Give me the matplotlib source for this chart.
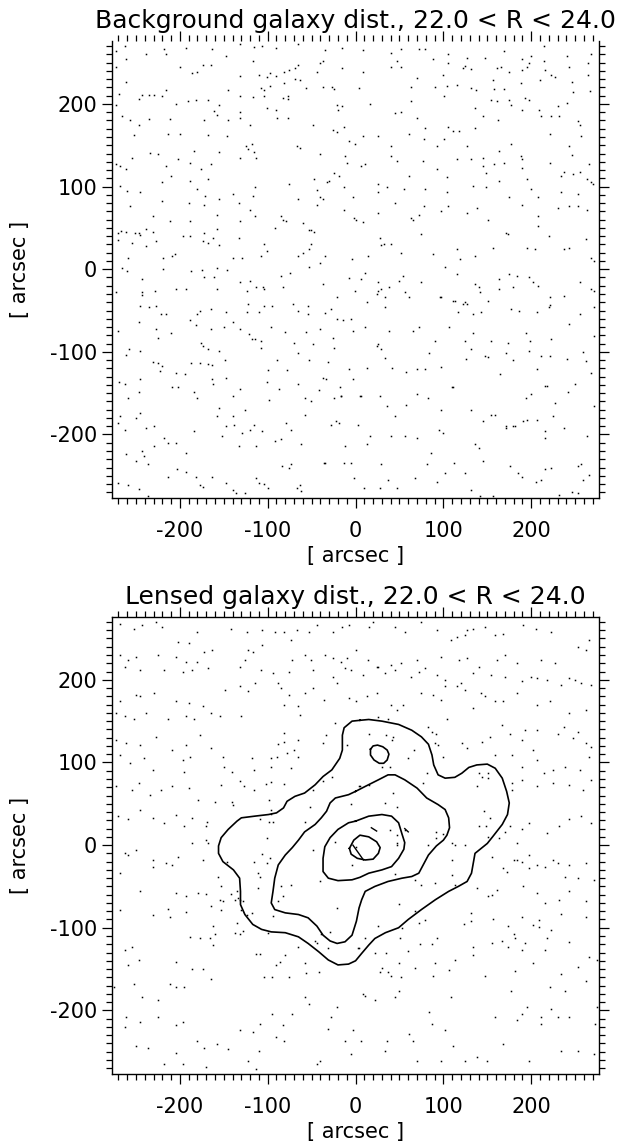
#!/usr/bin/python
# -*- coding: utf-8 -*-
"""
Background vs. lensed galaxy distribution, 22.0 < R < 24.0
"""
import numpy as np
import matplotlib
matplotlib.use('Agg')
import matplotlib.pyplot as plt
from matplotlib.ticker import MultipleLocator

#### Data (arcsec)
##############################################################################
title_top = 'Background galaxy dist., 22.0 < R < 24.0'
title_bot = 'Lensed galaxy dist., 22.0 < R < 24.0'
axis_label = '[ arcsec ]'

# background galaxy positions (x, y)
bg_dots = [
    (-273,264),(-263,270),(-238,260),(-218,266),(-216,260),(-193,268),(-163,266),(-131,272),(-116,269),(-106,270),
    (-90,268),(-65,272),(-35,265),(-15,268),(8,265),(40,262),(52,266),(72,266),(79,266),(88,254),(105,260),(127,256),
    (147,256),(169,264),(189,254),(200,258),(214,270),(241,258),(268,260),(-273,245),(-261,254),(-147,258),(-117,252),
    (-37,252),(40,245),(47,252),(52,245),(105,249),(122,243),(166,245),(175,239),(189,241),(198,249),(195,245),
    (214,252),(216,241),(223,235),(243,245),(265,249),
    (-200,245),(-186,237),(-181,239),(-174,247),(-165,247),(-131,234),(-110,235),(-101,233),(-97,237),(-90,234),
    (-81,239),(-76,241),(-69,243),(-65,247),(-69,230),(-63,229),(-44,239),(-40,250),(-15,243),(8,239),(70,231),
    (100,235),(125,246),(132,242),(156,229),(161,243),(210,229),(227,233),(246,227),(265,235),(-261,227),(-145,217),
    (-108,219),(-104,217),(-97,222),(-81,225),(-56,219),(-37,221),(-27,221),(-24,218),(4,219),(63,221),(90,221),
    (104,222),(116,223),(132,219),(137,217),(158,218),(169,218),(188,225),(247,214),(267,216),(-269,212),(-243,211),
    (-229,211),(-216,217),(-131,209),(-117,208),(-104,209),(-83,207),(-77,209),
    (-273,199),(-247,206),(-235,211),(-220,209),(-204,200),(-191,203),(-182,205),(-168,205),(-156,199),(-161,191),
    (-131,190),(-101,195),(-90,193),(-77,206),(-21,199),(-20,193),(-15,197),(17,200),(45,189),(52,190),(63,203),
    (101,209),(136,195),(154,205),(161,203),(175,205),(177,199),(193,207),(198,205),(209,193),(230,197),(241,201),
    (189,193),(-266,185),(-257,181),(-247,174),(-235,182),(-211,182),(-172,181),(-158,187),(-145,181),(-131,183),
    (-120,174),(-89,183),(-77,183),(-49,175),(-26,168),(-21,166),(-13,172),(70,183),(79,171),(105,172),(111,167),
    (118,167),(136,171),(145,185),(162,180),(223,185),(232,185),(253,179),(256,174),(211,185),
    (-252,162),(-214,163),(-200,163),(-168,162),(-146,161),(-125,149),(-122,145),(-118,151),(-116,142),(-67,149),
    (-63,147),(-40,140),(-8,155),(-1,151),(8,161),(26,161),(40,149),(61,163),(78,158),(93,149),(101,158),(127,149),
    (145,135),(163,143),(177,151),(188,137),(189,133),(221,163),(243,149),(246,138),(257,161),(-234,141),(-225,140),
    (-202,133),(-184,143),(-156,142),(-273,127),(-268,125),(-261,121),(-254,135),(-216,125),(-188,129),(-165,127),
    (-131,134),(-113,134),(-12,137),(-10,129),(11,127),(40,137),(47,131),(77,131),(116,133),(132,133),(145,125),
    (158,127),(169,128),(189,123),(221,129),(237,118),(255,118),(266,127),
    (-210,113),(-188,107),(-176,121),(-168,109),(-140,91),(-133,80),(-115,99),(-76,103),(-47,109),(-30,107),
    (-24,117),(-19,113),(-13,99),(6,125),(25,103),(61,113),(93,121),(104,112),(148,117),(163,107),(195,109),
    (200,97),(234,113),(247,115),(264,109),(268,105),(270,103),(-268,101),(-260,95),(-245,93),(-220,105),(-181,97),
    (-171,89),(-156,85),(-117,89),(-65,85),(-44,96),(-40,87),(-32,105),(-3,87),(26,93),(36,99),(55,97),(79,97),
    (104,94),(134,101),(149,100),(175,87),(208,87),(234,93),(253,91),
    (-257,77),(-231,64),(-220,82),(-211,58),(-190,80),(-189,58),(-172,78),(-158,65),(-132,58),(-120,72),(-114,64),
    (-92,50),(-85,64),(-83,60),(-79,58),(-60,56),(-53,48),(-44,78),(-37,85),(-13,72),(-2,62),(1,60),(8,57),(25,68),
    (45,80),(63,62),(65,60),(72,65),(78,77),(97,70),(105,77),(127,68),(138,74),(151,60),(189,78),(208,64),(230,74),
    (243,76),(253,76),(264,72),(208,52),(-270,44),(-267,46),(-261,45),(-251,44),(-246,44),(-238,49),(-231,45),
    (-271,35),(-254,32),(-245,41),(-238,28),(-227,34),(-206,18),(-197,40),(-189,40),(-172,44),(-174,34),(-168,32),
    (-158,49),(-162,38),(-155,29),(-133,38),(-140,14),(-129,14),(-104,31),(-101,22),(-66,16),(-60,20),(-53,25),
    (-51,30),(-47,45),(-51,48),(-35,16),(-4,12),(14,16),(28,38),(32,30),(29,29),(40,30),(52,20),(74,42),(88,18),
    (116,24),(136,16),(157,26),(171,44),(174,42),(195,26),(204,24),(220,40),(237,24),(243,26),(262,36),(268,13),
    (271,10),(-259,14),(-219,13),(-209,16),(-108,16),(119,12),
    (-266,2),(-260,-2),(-243,-12),(-219,0),(-204,-24),(-187,-2),(-175,-1),(-172,-10),(-161,-10),(-158,2),(-146,-1),
    (-131,-16),(-120,-14),(-105,-21),(-104,-24),(-85,-8),(-75,-4),(-53,3),(-37,-18),(-40,8),(-8,-11),(6,-12),(11,-5),
    (26,-16),(29,-24),(54,-8),(56,-28),(74,-16),(102,3),(116,-6),(136,-18),(142,-28),(163,-12),(175,-6),(198,-10),
    (202,-16),(208,-20),(256,-16),(268,-24),(-243,-28),(-228,-26),(-193,-24),(184,-8),
    (-273,-28),(-243,-31),(-158,-24),(-124,-26),(-113,-22),(-83,-22),(-21,-34),(-1,-26),(13,-40),(26,-26),(24,-30),
    (33,-34),(38,-22),(49,-14),(61,-34),(97,-34),(113,-38),(125,-40),(141,-22),(163,-24),(179,-22),(221,-34),
    (221,-43),(237,-32),(271,-26),
    (-245,-45),(-235,-46),(-227,-45),(-222,-54),(-216,-54),(-188,-62),(-181,-54),(-177,-50),(-165,-48),(-147,-52),
    (-140,-64),(-122,-42),(-124,-52),(-110,-52),(-104,-45),(-95,-44),(-71,-42),(-65,-51),(-54,-44),(-54,-54),
    (-35,-53),(-28,-48),(-21,-60),(-14,-62),(-5,-60),(11,-70),(33,-46),(96,-34),(111,-39),(117,-52),(122,-42),
    (127,-42),(134,-54),(143,-52),(151,-38),(177,-48),(186,-50),(207,-52),(220,-46),(243,-66),(255,-54),(271,-46),
    (-271,-75),(-247,-64),(-227,-72),(-225,-83),(-210,-77),(-182,-68),(-165,-72),(-150,-70),(-132,-72),(-118,-84),
    (-108,-87),(-96,-70),(-80,-76),(-70,-89),(-56,-76),(-41,-72),(-26,-83),(-3,-75),(25,-91),(38,-75),(65,-75),
    (72,-70),(91,-87),(106,-70),(125,-87),(134,-77),(154,-87),(173,-89),(194,-77),(199,-87),(223,-84),(259,-100),
    (271,-81),
    (-261,-104),(-258,-97),(-245,-99),(-231,-112),(-225,-114),(-220,-117),(-223,-123),(-204,-125),(-194,-127),
    (-187,-114),(-176,-89),(-174,-93),(-168,-97),(-163,-116),(-156,-99),(-149,-110),(-177,-114),(-168,-115),
    (-121,-79),(-115,-84),(-108,-95),(-100,-122),(-89,-110),(-78,-122),(-66,-102),(-53,-110),(-49,-91),(-37,-132),
    (-34,-133),(-31,-112),(-25,-95),(-18,-143),(-16,-153),(-8,-121),(5,-153),(13,-119),(24,-93),(29,-97),(33,-107),
    (42,-120),(57,-124),(70,-121),(79,-121),(84,-101),(97,-118),(110,-143),(126,-109),(132,-97),(147,-105),
    (151,-106),(165,-127),(171,-101),(179,-110),(197,-99),(207,-121),(211,-105),(221,-105),(218,-141),(241,-109),
    (250,-139),(262,-111),(268,-125),
    (-269,-137),(-263,-139),(-245,-133),(-259,-156),(-247,-149),(-209,-143),(-202,-143),(-180,-156),(-184,-149),
    (-163,-133),(-162,-139),(-148,-132),(-139,-153),(-132,-145),(-126,-170),(-101,-137),(-99,-158),(-87,-145),
    (-66,-139),(-58,-156),(-51,-160),(-42,-146),(-24,-156),(-17,-153),(-3,-133),(6,-153),(28,-153),(36,-165),
    (58,-164),(70,-151),(83,-156),(97,-170),(111,-143),(132,-170),(154,-176),(159,-176),(171,-190),(181,-190),
    (194,-156),(200,-151),(216,-141),(227,-162),(242,-149),(271,-165),
    (-270,-186),(-268,-178),(-263,-194),(-250,-180),(-245,-174),(-238,-192),(-229,-190),(-229,-214),(-218,-204),
    (-213,-210),(-204,-210),(-193,-222),(-184,-196),(-158,-178),(-156,-168),(-147,-190),(-152,-202),(-140,-178),
    (-138,-188),(-133,-214),(-129,-198),(-120,-194),(-116,-188),(-113,-214),(-106,-196),(-92,-208),(-85,-206),
    (-79,-186),(-73,-194),(-62,-212),(-57,-176),(-36,-234),(-28,-188),(-22,-184),(-19,-186),(-12,-214),(-5,-234),
    (3,-188),(13,-212),(17,-202),(29,-236),(40,-202),(45,-178),(56,-202),(70,-204),(86,-222),(95,-194),(100,-198),
    (136,-212),(141,-216),(145,-184),(171,-192),(179,-190),(185,-247),(191,-184),(195,-182),(207,-182),(216,-196),
    (225,-178),(216,-204),(237,-192),(263,-202),(257,-236),(253,-238),
    (-261,-224),(-250,-232),(-243,-220),(-241,-226),(-236,-236),(-213,-251),(-203,-242),(-193,-245),(-182,-251),
    (-177,-261),(-174,-263),(-163,-251),(-148,-259),(-140,-267),(-136,-271),(-126,-271),(-113,-253),(-110,-259),
    (-104,-260),(-100,-265),(-84,-238),(-76,-240),(-74,-236),(-63,-261),(-67,-265),(-62,-268),(-35,-234),(-13,-234),
    (-2,-253),(10,-265),(28,-265),(37,-255),(47,-265),(68,-253),(81,-236),(93,-257),(102,-247),(112,-234),
    (125,-247),(132,-267),(142,-275),(145,-232),(157,-275),(176,-238),(189,-251),(206,-257),(211,-255),(216,-242),
    (223,-240),(232,-273),(246,-269),(253,-271),(259,-255),(266,-249),(-270,-259),(-259,-261),(-247,-266),
    (-236,-274),
]

# lensed galaxy positions (x, y)
lensed_dots = [
    (-268,268),(-252,262),(-243,266),(-227,270),(-220,264),(-202,246),(-190,244),(-181,258),(-163,236),(-142,262),
    (-124,258),(-106,260),(-92,258),(-81,258),(-74,248),(-67,260),(-53,258),(-44,266),(-26,258),(-15,264),(-8,266),
    (15,264),(20,270),(45,264),(56,258),(74,270),(93,260),(109,248),(116,252),(125,254),(127,260),(134,262),
    (147,264),(159,254),(168,256),(191,266),(205,262),(223,258),(253,240),(262,236),(266,248),
    (-268,230),(-259,224),(-250,228),(-225,230),(-204,228),(-193,222),(-181,222),(-172,234),(-122,236),(-117,234),
    (-106,242),(-72,224),(-58,230),(-51,224),(-35,230),(-26,226),(-17,222),(-10,226),(1,236),(14,224),(26,216),
    (40,218),(52,220),(70,224),(79,214),(97,228),(118,224),(127,226),(141,216),(161,224),(170,230),(184,220),
    (211,224),(227,220),(250,200),(257,196),(268,194),
    (-263,216),(-245,212),(-218,212),(-197,210),(-186,212),(-168,214),(-131,216),(-126,224),(-108,212),(-94,208),
    (-76,210),(-49,212),(-26,204),(-12,214),(-5,212),(8,206),(24,216),(33,208),(45,212),(63,204),(72,210),(93,206),
    (102,200),(120,196),(134,208),(154,206),(170,204),(189,198),(200,204),(207,202),(218,200),(234,194),(243,202),
    (-250,182),(-268,174),(-245,180),(-229,184),(-204,174),(-190,172),(-174,168),(-149,188),(-131,192),(-122,186),
    (-115,196),(-88,196),(-85,190),(-76,182),(-81,170),(-65,168),(-58,184),(-49,190),(-36,176),(-21,196),(-8,178),
    (1,174),(13,180),(24,184),(40,170),(47,164),(54,170),(74,184),(88,182),(97,176),(102,192),(116,192),(125,188),
    (134,166),(143,184),(147,180),(159,174),(168,174),(184,184),(207,170),(221,174),(243,160),(262,164),
    (-273,160),(-263,156),(-252,152),(-238,160),(-213,152),(-193,156),(-184,152),(-165,160),(-63,158),(193,139),
    (207,139),(237,143),(253,137),
    (-273,127),(-261,123),(-245,121),(-227,131),(-209,115),(-193,121),(-177,133),(189,127),(202,115),(230,135),
    (248,129),(262,123),(268,119),
    (-268,109),(-257,99),(-241,105),(-231,91),(-197,103),(-195,89),(-188,107),(189,95),(207,103),(214,87),
    (225,91),(239,95),(255,91),(266,107),
    (-273,71),(-254,67),(-247,75),(-234,61),(-222,67),(-209,71),(-190,69),(-179,55),(189,79),(207,71),(225,75),
    (243,73),(259,67),(268,79),
    (-270,35),(-259,31),(-245,43),(-231,33),(-218,27),(-204,37),(-195,23),(-186,33),(189,19),(198,27),(218,15),
    (232,23),(243,31),(257,35),(268,27),
    (-263,-10),(-250,-6),(-231,-18),(-216,-22),(-202,-14),(-186,2),(-174,-18),(184,2),(198,-12),(225,-18),
    (243,-24),(262,-22),
    (-154,156),(-130,156),(-164,117),(-151,107),(-150,94),(-141,89),(-153,73),(-131,77),(-127,71),(-118,106),
    (-116,91),(-116,67),(-102,74),(-96,76),(-96,95),(-96,106),(-89,107),(-88,122),(-82,136),(-82,125),(-78,112),
    (-70,115),(-65,127),(-65,107),(-73,93),(-81,74),(-99,55),(-160,52),(-141,52),(-140,48),(-96,42),(-96,38),
    (-109,32),(-99,28),(-94,28),(-58,28),(-52,46),(-48,67),(-37,78),(-27,83),(-37,123),(-34,133),(-10,121),
    (-23,148),(-5,50),(-169,28),(-170,23),(-170,6),(-168,2),(-101,9),(-23,4),(4,71),
    (26,155),(37,153),(104,153),(83,143),(87,137),(92,135),(91,123),(94,121),(15,135),(35,133),(43,131),(41,127),
    (66,115),(60,105),(100,107),(121,123),(127,117),(144,125),(153,131),(167,145),(176,135),(159,109),(178,109),
    (81,87),(77,75),(30,95),(39,95),(5,71),(15,73),(43,63),(34,51),(47,46),(140,87),(144,83),(151,87),(138,71),
    (151,81),(178,75),(178,67),(146,41),(153,33),(140,23),(148,23),(151,10),(163,8),(176,23),(170,16),(92,16),
    (100,14),(92,8),(83,0),(110,2),(125,0),(47,2),(39,18),(56,18),(47,12),
    (-107,-11),(-97,-16),(-101,-22),(-116,-21),(-111,-34),(-109,-38),(-146,-20),(-157,-38),(-153,-50),(-170,-59),
    (-164,-74),(-154,-66),(-151,-68),(-153,-78),(-142,-59),(-135,-56),(-134,-64),(-137,-66),(-132,-66),(-128,-68),
    (-130,-78),(-124,-84),(-118,-82),(-111,-52),(-85,-50),(-74,-48),(-83,-62),(-88,-68),(-94,-86),(-135,-94),
    (-162,-98),(-160,-108),(-166,-113),(-162,-121),(-137,-106),(-132,-108),(-128,-104),(-100,-106),(-113,-132),
    (-109,-132),(-80,-133),(-86,-141),(-90,-145),(-58,-143),(-66,-123),(-56,-155),(-42,-153),(-46,-116),(-44,-119),
    (-39,-108),(-29,-105),(-31,-125),(-48,-6),(-40,-44),(-21,-76),(1,-2),(-4,-24),(4,-125),
    (47,0),(110,-18),(113,0),(155,-14),(180,-18),(168,-28),(172,-32),(45,-35),(68,-42),(75,-48),(91,-46),(110,-36),
    (113,-48),(138,-52),(151,-62),(155,-60),(161,-54),(49,-71),(68,-80),(79,-91),(26,-98),(53,-100),(72,-94),
    (132,-82),(132,-92),(123,-96),(157,-89),(174,-98),(180,-108),(11,-112),(51,-113),(93,-112),(73,-120),(87,-120),
    (60,-128),(35,-131),(22,-131),(3,-125),(134,-123),(155,-118),(167,-116),(174,-123),(134,-133),(113,-139),
    (91,-143),(68,-149),(49,-143),(30,-149),(28,-154),(37,-154),(106,-151),
    (-259,-12),(-268,-34),(-231,-26),(-245,-56),(-268,-79),(-231,-85),(-254,-123),(-263,-127),(-247,-139),
    (-259,-145),(-252,-168),(-275,-172),(-243,-184),(-225,-188),(-225,-208),(-261,-208),(-245,-214),(-263,-220),
    (-250,-243),(-236,-245),(-204,-251),(-218,-265),(-197,-265),(-170,-269),(-209,-24),(-204,-58),(-213,-77),
    (-211,-87),(-193,-81),(-188,-111),(-177,-113),(-193,-62),(-179,-58),(-204,-141),(-211,-168),(-204,-172),
    (-195,-172),(-186,-150),(-174,-150),(-165,-162),(-197,-214),(-204,-218),(-181,-237),(-172,-245),
    (-158,-241),(-145,-247),(-131,-224),(-117,-226),(-110,-249),(-113,-271),(-122,-261),(-109,-216),(-95,-204),
    (-83,-218),(-81,-237),(-90,-232),(-72,-204),(-58,-184),(-53,-192),(-40,-261),(-44,-265),(-31,-222),(-28,-208),
    (-21,-196),(-12,-237),(-3,-224),(-5,-253),(6,-237),(8,-180),(11,-182),(22,-188),(33,-249),(36,-237),(45,-184),
    (52,-160),(49,-176),(61,-228),(65,-237),(70,-261),(84,-202),(87,-216),(97,-261),(102,-224),(109,-184),
    (111,-243),(125,-261),(138,-257),(150,-261),(159,-208),(168,-241),(177,-176),(184,-212),(189,-204),(195,-196),
    (198,-261),(211,-208),(211,-216),(221,-172),(223,-198),(230,-208),(234,-249),(239,-176),(243,-208),(253,-249),
    (262,-164),(271,-253),(273,-216),(275,-196),
    (-104,-160),(-95,-160),(-76,-160),(40,-158),(88,-158),(147,-158),(182,-152),(202,-143),(216,-127),(234,-156),
    (253,-147),(266,-135),(275,-139),
    (184,-18),(189,-20),(198,-28),(207,-24),(216,-26),(230,-22),(239,-38),(253,-40),(271,-42),(191,-50),(207,-58),
    (216,-70),(232,-66),(243,-56),(262,-68),(189,-87),(202,-97),(209,-91),(223,-103),(234,-83),(243,-117),
    (262,-87),(182,-113),(193,-119),(209,-99),(189,-127),(218,-113),
]

# contour lines of the lensed panel (x list, y list)
c1_x = [5, -4, -13, -15, -15, -18, -27, -37, -46, -58, -69, -78, -82, -90, -99, -115, -130, -135, -145, -153,
        -156, -156, -151, -139, -132, -131, -131, -126, -117, -107, -96, -80, -65, -54, -42, -31, -20, -8, 0, 7,
        15, 22, 34, 49, 60, 75, 91, 106, 117, 127, 132, 134, 136, 143, 150, 156, 167, 173, 175, 172, 167, 159,
        150, 138, 129, 121, 113, 102, 94, 89, 87, 83, 75, 64, 49, 30, 15, 5]
c1_y = [151, 150, 142, 133, 115, 105, 91, 83, 73, 63, 59, 53, 45, 39, 37, 35, 33, 29, 19, 9,
        -1, -10, -20, -30, -40, -56, -72, -84, -96, -102, -105, -106, -111, -119, -129, -139, -145, -144, -140, -131,
        -121, -113, -106, -100, -90, -78, -66, -56, -50, -44, -34, -22, -10, -4, 2, 10, 25, 37, 51, 65, 81, 93,
        98, 97, 94, 87, 82, 81, 85, 97, 109, 122, 131, 139, 146, 150, 152, 151]
c2_x = [0, -8, -23, -29, -33, -39, -46, -58, -65, -72, -80, -88, -92, -94, -96, -92, -80, -65, -54, -44, -37,
        -29, -21, -12, -4, 1, 4, 7, 11, 22, 37, 53, 64, 72, 77, 83, 92, 100, 104, 107, 106, 102, 94, 81, 70, 56,
        45, 37, 26, 11, 0]
c2_y = [65, 61, 57, 51, 41, 33, 25, 16, 6, -3, -12, -24, -40, -56, -70, -78, -82, -84, -88, -98, -109,
        -116, -119, -117, -109, -92, -76, -66, -56, -50, -44, -40, -38, -34, -24, -12, -1, 6, 12, 21, 33, 43, 49,
        57, 69, 79, 85, 85, 79, 71, 65]
c3_x = [0, -8, -20, -29, -35, -37, -37, -31, -20, -4, 5, 15, 30, 41, 49, 55, 56, 53, 49, 41, 30, 15, 0]
c3_y = [29, 27, 19, 9, -2, -16, -32, -40, -43, -42, -39, -34, -30, -26, -16, -5, 3, 13, 27, 35, 37, 35, 29]
c4_x = [-7, -5, 2, 11, 20, 26, 28, 24, 15, 5, -2, -7]
c4_y = [-4, -11, -16, -18, -17, -10, -3, 4, 10, 12, 6, -4]
c5_x = [17, 20, 25, 31, 36, 38, 36, 32, 27, 21, 17, 17]
c5_y = [116, 120, 121, 119, 115, 110, 103, 99, 99, 103, 109, 116]
# short fragments near the centre
frag_x = [[-3, 9], [18, 24], [56, 60]]
frag_y = [[0, -18], [21, 17], [20, 16]]

#### Plot
##############################################################################
plt.rcParams['axes.unicode_minus'] = False
plt.rcParams['font.family'] = 'DejaVu Sans'

W, H = 629., 1141.
fig = plt.figure(figsize=(W / 100, H / 100), dpi=100)

lim_x = 277.5
lim_y = 276.5
ax_left, ax_w, ax_h = 111.8, 487.5, 457.
tops = [40.7, 616.6]


def style_axes(ax):
    ax.set_xlim(-lim_x, lim_x)
    ax.set_ylim(-lim_y, lim_y)
    ax.xaxis.set_major_locator(MultipleLocator(100))
    ax.yaxis.set_major_locator(MultipleLocator(100))
    ax.xaxis.set_minor_locator(MultipleLocator(10))
    ax.yaxis.set_minor_locator(MultipleLocator(10))
    ax.tick_params(which='both', direction='out', top=True, right=True,
                   width=0.9, color='k')
    ax.tick_params(which='major', length=7, labelsize=15)
    ax.tick_params(axis='x', which='major', pad=9.5)
    ax.tick_params(axis='y', which='major', pad=3.5)
    ax.tick_params(which='minor', length=4)
    for sp in ax.spines.values():
        sp.set_linewidth(1.0)


axes = []
for top in tops:
    ax = fig.add_axes([ax_left / W, 1 - (top + ax_h) / H, ax_w / W, ax_h / H])
    style_axes(ax)
    axes.append(ax)
ax1, ax2 = axes
ax1.spines['top'].set_visible(False)

bg = np.array(bg_dots)
ax1.plot(bg[:, 0], bg[:, 1], 's', ms=1.1, mew=0, color='k')

ld = np.array(lensed_dots)
ax2.plot(ld[:, 0], ld[:, 1], 's', ms=1.1, mew=0, color='k')
for cx, cy in [(c1_x, c1_y), (c2_x, c2_y), (c3_x, c3_y), (c4_x, c4_y), (c5_x, c5_y)]:
    ax2.plot(cx, cy, '-', color='k', lw=1.2)
for fx, fy in zip(frag_x, frag_y):
    ax2.plot(fx, fy, '-', color='k', lw=1.0)

# titles and axis labels
cx_fig = (ax_left + ax_w / 2) / W
for top, title in zip(tops, [title_top, title_bot]):
    fig.text(cx_fig, 1 - (top - 13) / H, title, ha='center', va='baseline',
             fontsize=18)
    fig.text(20 / W, 1 - (top + ax_h / 2) / H, axis_label, rotation=90,
             ha='center', va='center', fontsize=15)
    fig.text(cx_fig, 1 - (top + ax_h + 58) / H, axis_label, ha='center',
             va='center', fontsize=15)

fig.savefig('out.png', dpi=100)
